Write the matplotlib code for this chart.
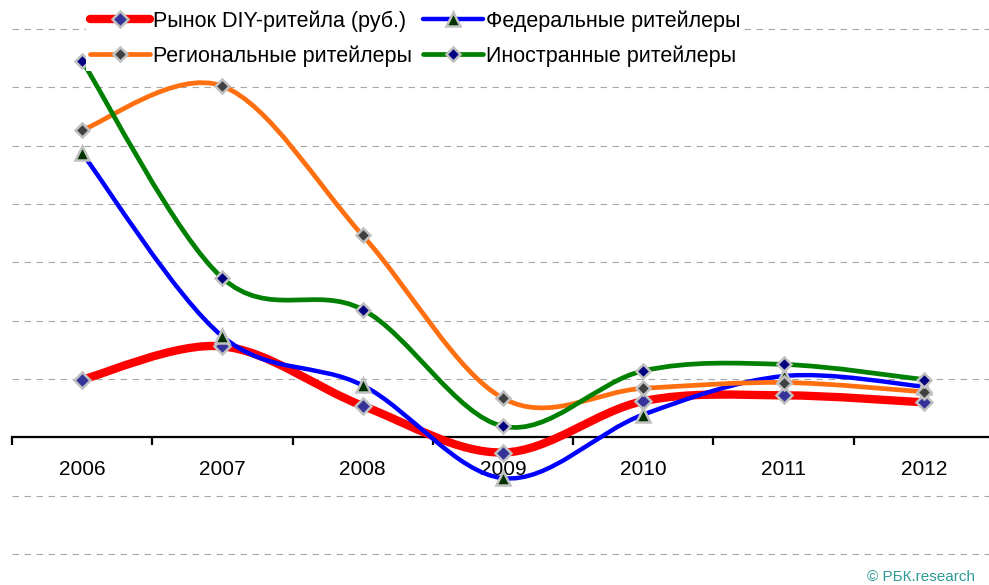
import numpy as np
import matplotlib
matplotlib.use("Agg")
import matplotlib.pyplot as plt
from matplotlib.path import Path
from matplotlib.patches import PathPatch
from matplotlib.lines import Line2D

plt.rcParams['font.family'] = ['Liberation Sans', 'DejaVu Sans']

years = ["2006", "2007", "2008", "2009", "2010", "2011", "2012"]
diy_market = [9.9, 15.6, 5.4, -2.6, 6.2, 7.2, 6.0]
federal = [48.7, 17.3, 8.9, -7.0, 3.9, 10.5, 8.7]
regional = [52.7, 60.2, 34.6, 6.7, 8.4, 9.4, 7.8]
foreign = [64.5, 27.3, 21.9, 1.9, 11.4, 12.5, 9.9]


def smooth_path(xs, ys):
    # excel-like smoothed line: bezier segments, catmull-rom tangents
    pts = np.column_stack([xs, ys]).astype(float)
    n = len(pts)
    verts = [pts[0]]
    codes = [Path.MOVETO]
    for i in range(n - 1):
        p0 = pts[max(i - 1, 0)]
        p1 = pts[i]
        p2 = pts[i + 1]
        p3 = pts[min(i + 2, n - 1)]
        verts += [p1 + (p2 - p0) / 6, p2 - (p3 - p1) / 6, p2]
        codes += [Path.CURVE4] * 3
    return Path(verts, codes)


series = [
    ("Рынок DIY-ритейла (руб.)", diy_market, "#ff0000", 6.0, "D", "#333399", 8.0),
    ("Региональные ритейлеры", regional, "#ff6f0f", 3.4, "D", "#404040", 7.5),
    ("Федеральные ритейлеры", federal, "#0000ff", 3.2, "^", "#003300", 10.0),
    ("Иностранные ритейлеры", foreign, "#008000", 3.4, "D", "#000080", 7.5),
]
draw_order = [0, 2, 1, 3]

fig = plt.figure(figsize=(9.89, 5.85), dpi=100)
ax = fig.add_axes([12 / 989, (585 - 554) / 585, 982 / 989, 525 / 585])
ax.set_xlim(-0.5, 6.5)
ax.set_ylim(-20, 70)

x = np.arange(len(years))
for k, i in enumerate(draw_order):
    name, vals, col, lw, mk, mfc, ms = series[i]
    patch = PathPatch(smooth_path(x, vals), facecolor='none', edgecolor=col,
                      lw=lw, capstyle='round', joinstyle='round', zorder=2 + k)
    ax.add_patch(patch)
for k, i in enumerate(draw_order):
    name, vals, col, lw, mk, mfc, ms = series[i]
    ax.plot(x, vals, linestyle='none', marker=mk, ms=ms, mfc=mfc,
            mec='#c0c0c0', mew=1.8, zorder=10 + k, clip_on=False)

ax.set_yticks(np.arange(-20, 71, 10))
ax.yaxis.grid(True, linestyle=(0, (5.8, 5.0)), color='#a6a6a6', lw=0.8)
for gl in ax.get_ygridlines():
    gl.set_clip_on(False)
ax.set_axisbelow(True)
ax.tick_params(axis='y', left=False, labelleft=False)
for s in ['top', 'left', 'right']:
    ax.spines[s].set_visible(False)
ax.spines['bottom'].set_position(('data', 0))
ax.spines['bottom'].set_linewidth(1.6)
ax.spines['bottom'].set_zorder(1.5)

ax.set_xticks(x)
ax.set_xticklabels(years, fontsize=15)
ax.set_xticks(np.arange(-0.5, 7, 1), minor=True)
ax.tick_params(axis='x', which='major', length=0, pad=16)
ax.tick_params(axis='x', which='minor', length=5.5, width=1.6, direction='out')

handles = []
for name, vals, col, lw, mk, mfc, ms in series:
    handles.append(Line2D([], [], color=col, lw=lw, solid_capstyle='round',
                          marker=mk, ms=ms, mfc=mfc, mec='#c0c0c0', mew=1.8,
                          label=name))
leg = ax.legend(handles=handles, ncol=2, loc='upper left',
                bbox_to_anchor=(86 / 989, 1 - 6 / 585), bbox_transform=fig.transFigure,
                fontsize=15.5, handlelength=2.75, handletextpad=0.14,
                columnspacing=0.55, labelspacing=0.62, borderpad=0.2,
                borderaxespad=0, frameon=True, fancybox=False, markerscale=1.0)
leg.get_frame().set_facecolor('white')
leg.get_frame().set_edgecolor('none')
leg.get_frame().set_alpha(1)
leg.set_zorder(20)

fig.text(975 / 989, 1 - 577 / 585, "© РБК.research", ha='right', va='center',
         fontsize=11, color='#2e9a96')

fig.savefig("out.png", dpi=100)
